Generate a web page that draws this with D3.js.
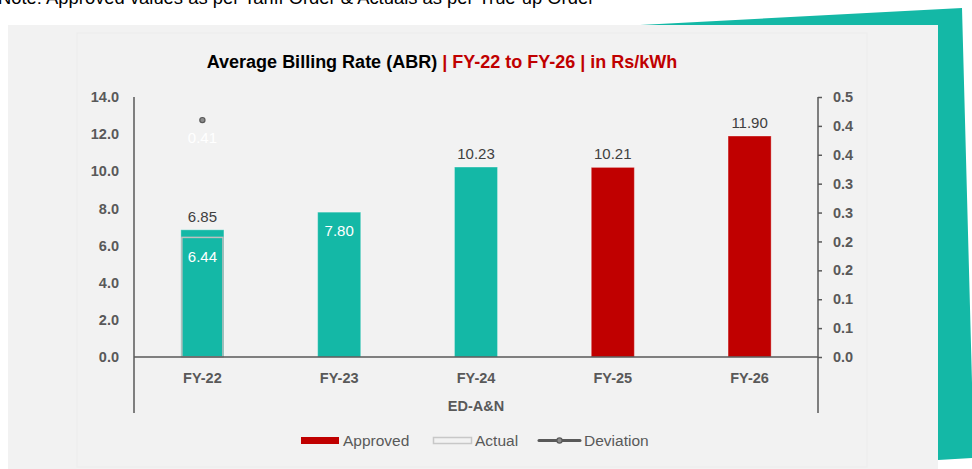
<!DOCTYPE html>
<html>
<head>
<meta charset="utf-8">
<script src="https://cdn.jsdelivr.net/npm/d3@7/dist/d3.min.js"></script>
<style>
  html, body { margin: 0; padding: 0; background: #ffffff; }
  svg { display: block; font-family: "Liberation Sans", Arial, sans-serif; }
</style>
</head>
<body>
<svg id="chart" width="972" height="469"></svg>
<script>
// ---- data ----
const categories = ["FY-22", "FY-23", "FY-24", "FY-25", "FY-26"];
const approved = [6.85, 7.80, 10.23, 10.21, 11.90];
const actual = [6.44, null, null, null, null];
const deviation = [0.41, null, null, null, null];
const barColors = ["#14b8a6", "#14b8a6", "#14b8a6", "#c00000", "#c00000"];
const leftTicks = [0, 2, 4, 6, 8, 10, 12, 14];
const rightTicks = [0, 0.05, 0.10, 0.15, 0.20, 0.25, 0.30, 0.35, 0.40, 0.45];
const rightTickLabels = ["0.0", "0.1", "0.1", "0.2", "0.2", "0.3", "0.3", "0.4", "0.4", "0.5"];
const groupLabel = "ED-A&N";
const noteText = "Note: Approved values as per Tariff Order & Actuals as per True-up Order";
const legendItems = ["Approved", "Actual", "Deviation"];

const svg = d3.select("#chart");

// note (cut off at top, as in the reference)
svg.append("text").attr("x", -2).attr("y", 4)
  .attr("font-size", 18.4).attr("fill", "#000").text(noteText);

// outer panel
svg.append("rect").attr("x", 8).attr("y", 25).attr("width", 930).attr("height", 444)
  .attr("fill", "#f2f2f2");
// teal decoration
svg.append("polygon")
  .attr("points", "640,25 962,8 974,458 938,460 938,25")
  .attr("fill", "#14b8a6");
// inner chart area
svg.append("rect").attr("x", 77).attr("y", 33).attr("width", 790).attr("height", 434)
  .attr("fill", "#f2f2f2").attr("stroke", "#ececec").attr("stroke-width", 1);

// title
const title = svg.append("text").attr("x", 442).attr("y", 68)
  .attr("text-anchor", "middle").attr("font-size", 18).attr("font-weight", "bold");
title.append("tspan").attr("fill", "#000").text("Average Billing Rate (ABR) ");
title.append("tspan").attr("fill", "#c00000").text("| FY-22 to FY-26 | in Rs/kWh");

// scales
const x = d3.scaleBand().domain(categories).range([134, 818]).paddingInner(0.685).paddingOuter(0.3425);
const y = d3.scaleLinear().domain([0, 14]).range([357, 97]);
const y2 = d3.scaleLinear().domain([0, 0.45]).range([357, 97]);
const axisColor = "#595959";
const font = "Liberation Sans, Arial, sans-serif";

// left axis
const gL = svg.append("g").attr("transform", "translate(134,0)")
  .call(d3.axisLeft(y).tickValues(leftTicks).tickSize(0).tickPadding(15).tickFormat(d3.format(".1f")));
gL.select(".domain").remove();
gL.selectAll("text").attr("font-size", 14.5).attr("font-weight", "bold").attr("fill", axisColor)
  .attr("font-family", font);

// right axis
const gR = svg.append("g").attr("transform", "translate(818,0)")
  .call(d3.axisRight(y2).tickValues(rightTicks).tickSize(4).tickPadding(11)
    .tickFormat((d, i) => rightTickLabels[i]));
gR.select(".domain").remove();
gR.selectAll("line").attr("stroke", axisColor).attr("stroke-width", 1.5);
gR.selectAll("text").attr("font-size", 14.5).attr("font-weight", "bold").attr("fill", axisColor)
  .attr("font-family", font);

// bars
svg.append("g").selectAll("rect").data(approved).join("rect")
  .attr("x", (d, i) => x(categories[i]))
  .attr("y", d => y(d))
  .attr("width", x.bandwidth())
  .attr("height", d => y(0) - y(d))
  .attr("fill", (d, i) => barColors[i])
  .attr("stroke", "rgba(255,255,255,0.35)").attr("stroke-width", 1);

// actual (outline)
const actData = actual.map((v, i) => ({v, i})).filter(d => d.v != null);
svg.append("g").selectAll("rect").data(actData).join("rect")
  .attr("x", d => x(categories[d.i]) + 1)
  .attr("y", d => y(d.v))
  .attr("width", x.bandwidth() - 2)
  .attr("height", d => y(0) - y(d.v))
  .attr("fill", "none")
  .attr("stroke", "#bfbfbf").attr("stroke-width", 1.5);

// axis lines
svg.append("line").attr("x1", 134).attr("x2", 134).attr("y1", 97).attr("y2", 413)
  .attr("stroke", axisColor).attr("stroke-width", 1.5);
svg.append("line").attr("x1", 818).attr("x2", 818).attr("y1", 97).attr("y2", 413)
  .attr("stroke", axisColor).attr("stroke-width", 1.5);
svg.append("line").attr("x1", 134).attr("x2", 818).attr("y1", y(0)).attr("y2", y(0))
  .attr("stroke", axisColor).attr("stroke-width", 1.5);

// approved labels
svg.append("g").selectAll("text").data(approved).join("text")
  .attr("x", (d, i) => x(categories[i]) + x.bandwidth() / 2)
  .attr("y", (d, i) => i === 1 ? y(d) + 24 : y(d) - 8)
  .attr("text-anchor", "middle").attr("font-size", 15)
  .attr("fill", (d, i) => i === 1 ? "#ffffff" : "#404040")
  .text(d => d3.format(".2f")(d));

// actual labels
svg.append("g").selectAll("text").data(actData).join("text")
  .attr("x", d => x(categories[d.i]) + x.bandwidth() / 2)
  .attr("y", d => y(d.v) + 25)
  .attr("text-anchor", "middle").attr("font-size", 15).attr("fill", "#ffffff")
  .text(d => d3.format(".2f")(d.v));

// deviation points
const devData = deviation.map((v, i) => ({v, i})).filter(d => d.v != null);
svg.append("g").selectAll("circle").data(devData).join("circle")
  .attr("cx", d => x(categories[d.i]) + x.bandwidth() / 2)
  .attr("cy", d => y2(d.v))
  .attr("r", 2.6).attr("fill", "#8c8c8c").attr("stroke", "#595959").attr("stroke-width", 1.2);
svg.append("g").selectAll("text").data(devData).join("text")
  .attr("x", d => x(categories[d.i]) + x.bandwidth() / 2)
  .attr("y", d => y2(d.v) + 23)
  .attr("text-anchor", "middle").attr("font-size", 15).attr("fill", "#ffffff")
  .text(d => d3.format(".2f")(d.v));

// category labels
svg.append("g").selectAll("text").data(categories).join("text")
  .attr("x", d => x(d) + x.bandwidth() / 2).attr("y", 383)
  .attr("text-anchor", "middle").attr("font-size", 14.5).attr("font-weight", "bold")
  .attr("fill", axisColor).text(d => d);
svg.append("text").attr("x", 476).attr("y", 411)
  .attr("text-anchor", "middle").attr("font-size", 14.5).attr("font-weight", "bold")
  .attr("fill", axisColor).text(groupLabel);

// legend
const lg = svg.append("g");
lg.append("rect").attr("x", 301).attr("y", 437).attr("width", 38).attr("height", 7).attr("fill", "#c00000");
lg.append("text").attr("x", 343).attr("y", 446).attr("font-size", 15.5).attr("fill", axisColor).text(legendItems[0]);
lg.append("rect").attr("x", 433.5).attr("y", 437.5).attr("width", 38).attr("height", 6)
  .attr("fill", "none").attr("stroke", "#c8c8c8").attr("stroke-width", 1.5);
lg.append("text").attr("x", 475).attr("y", 446).attr("font-size", 15.5).attr("fill", axisColor).text(legendItems[1]);
lg.append("line").attr("x1", 539).attr("x2", 580).attr("y1", 440.5).attr("y2", 440.5)
  .attr("stroke", axisColor).attr("stroke-width", 3).attr("stroke-linecap", "round");
lg.append("circle").attr("cx", 559.5).attr("cy", 440.5).attr("r", 2.6)
  .attr("fill", "#8c8c8c").attr("stroke", axisColor).attr("stroke-width", 1.2);
lg.append("text").attr("x", 584).attr("y", 446).attr("font-size", 15.5).attr("fill", axisColor).text(legendItems[2]);
</script>
</body>
</html>
